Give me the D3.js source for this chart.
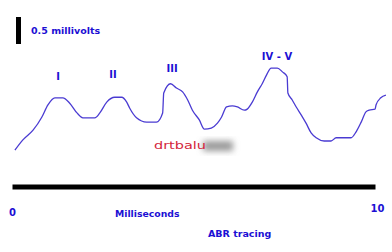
<!DOCTYPE html>
<html lang="en">
<head>
<meta charset="UTF-8">
<title>ABR tracing</title>
<script src="https://d3js.org/d3.v7.min.js"></script>
<style>
body { margin: 0; background: #fff; }
.lbl { font-family: "DejaVu Sans", sans-serif; font-weight: bold; fill: #1c0fd4; }
.axis path { stroke: #000; stroke-width: 5; }
.axis text { font-family: "DejaVu Sans", sans-serif; font-weight: bold; font-size: 10px; fill: #1c0fd4; }
</style>
</head>
<body>
<script>
// ABR trace: time (ms) and amplitude (mV)
var times = [0.08,0.30,0.58,0.82,0.99,1.18,1.40,1.59,1.79,1.95,2.28,2.42,2.61,2.83,3.02,3.16,3.24,3.43,3.71,3.98,
             4.15,4.18,4.37,4.53,4.70,4.84,4.97,5.16,5.30,5.49,5.66,5.77,5.91,6.07,6.21,6.40,6.48,6.62,6.76,6.90,
             7.01,7.14,7.31,7.45,7.58,7.60,7.72,7.83,7.97,8.10,8.24,8.38,8.60,8.79,8.93,9.34,9.48,9.62,9.75,9.84,
             10.00,10.03,10.16,10.30];
var volts = [-0.17,0.02,0.20,0.44,0.67,0.80,0.80,0.70,0.52,0.43,0.43,0.52,0.72,0.81,0.81,0.72,0.61,0.43,0.35,0.35,
             0.52,0.89,1.06,0.98,0.91,0.76,0.57,0.39,0.22,0.24,0.33,0.44,0.63,0.65,0.63,0.57,0.59,0.72,0.91,1.07,
             1.22,1.35,1.35,1.28,1.19,0.89,0.76,0.63,0.48,0.33,0.15,0.06,0.00,0.00,0.06,0.06,0.17,0.35,0.54,0.57,
             0.59,0.67,0.80,0.85];

// wave labels
var waveNames = ["I", "II", "III", "IV - V"];
var waveTimes = [1.27, 2.78, 4.41, 7.30];
var waveLevels = [1.13, 1.17, 1.28, 1.50];

var tickValues = [0, 10];
var calibration = 0.5; // mV

var width = 392, height = 252;

var x = d3.scaleLinear().domain([0, 10]).range([12, 375]);
var y = d3.scaleLinear().domain([0, 1]).range([141, 87]);

var svg = d3.select("body").append("svg")
    .attr("width", width)
    .attr("height", height);

var defs = svg.append("defs");
defs.append("filter").attr("id", "blur")
    .attr("x", "-50%").attr("y", "-50%").attr("width", "200%").attr("height", "200%")
    .append("feGaussianBlur").attr("stdDeviation", 3);

// calibration bar
svg.append("rect")
    .attr("x", 16)
    .attr("y", 17)
    .attr("width", 5)
    .attr("height", y(0) - y(calibration))
    .attr("fill", "#000");

svg.append("text")
    .attr("class", "lbl")
    .attr("x", 31)
    .attr("y", 34)
    .style("font-size", "9.5px")
    .text(calibration + " millivolts");

// watermark
svg.append("rect")
    .attr("x", 203).attr("y", 141)
    .attr("width", 30).attr("height", 10)
    .attr("fill", "#9a9a9a")
    .attr("filter", "url(#blur)");

svg.append("text")
    .attr("x", 154)
    .attr("y", 149)
    .attr("font-family", "DejaVu Sans, sans-serif")
    .attr("font-size", "10px")
    .attr("textLength", 52)
    .attr("lengthAdjust", "spacingAndGlyphs")
    .attr("fill", "#d4263c")
    .text("drtbalu");

// trace
var pts = times.map(function(t, i) { return [t, volts[i]]; });
var line = d3.line()
    .x(function(d) { return x(d[0]); })
    .y(function(d) { return y(d[1]); })
    .curve(d3.curveMonotoneX);

svg.append("path")
    .datum(pts)
    .attr("d", line)
    .attr("fill", "none")
    .attr("stroke", "#4a3bd2")
    .attr("stroke-width", 1.3);

// wave labels
svg.selectAll(".wave")
    .data(waveNames)
    .enter()
    .append("text")
    .attr("class", "lbl wave")
    .attr("x", function(d, i) { return x(waveTimes[i]); })
    .attr("y", function(d, i) { return y(waveLevels[i]); })
    .attr("text-anchor", "middle")
    .style("font-size", "10px")
    .text(function(d) { return d; });

// time axis
var axis = d3.axisBottom(x)
    .tickValues(tickValues)
    .tickSize(0)
    .tickPadding(22)
    .tickFormat(d3.format("d"));

var gx = svg.append("g")
    .attr("class", "axis")
    .attr("transform", "translate(0,186.5)")
    .call(axis);
gx.selectAll(".tick").filter(function(d) { return d === 10; })
    .select("text").attr("x", 2).attr("y", 18);

svg.append("text")
    .attr("class", "lbl")
    .attr("x", 115)
    .attr("y", 217)
    .style("font-size", "9.3px")
    .text("Milliseconds");

svg.append("text")
    .attr("class", "lbl")
    .attr("x", 208)
    .attr("y", 237)
    .style("font-size", "9.5px")
    .text("ABR tracing");
</script>
</body>
</html>
